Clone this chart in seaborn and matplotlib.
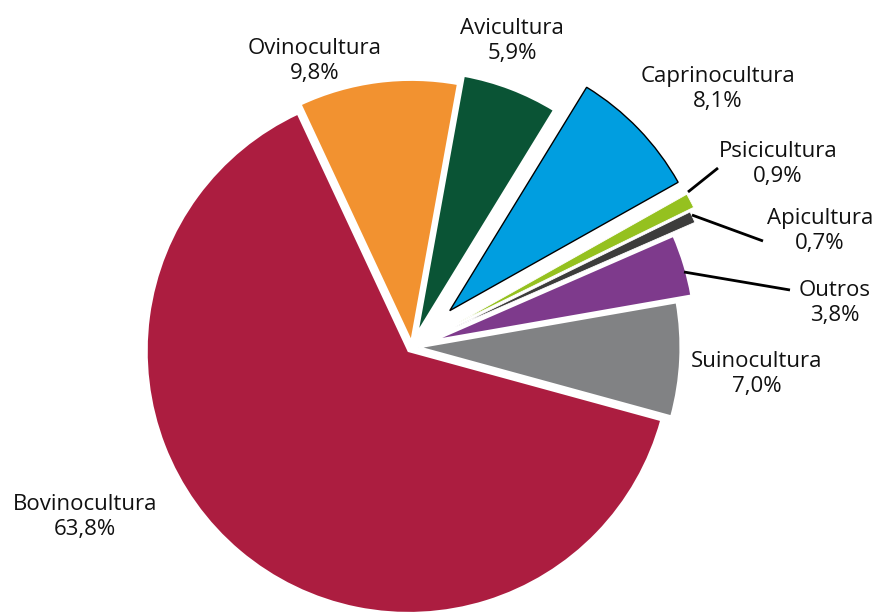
import matplotlib
matplotlib.use("Agg")
import matplotlib.pyplot as plt
import seaborn as sns
import pandas as pd

sns.set_theme(style="white")
plt.rcParams["font.family"] = ["Open Sans", "DejaVu Sans"]

categories = ["Bovinocultura", "Ovinocultura", "Avicultura", "Caprinocultura",
              "Psicicultura", "Apicultura", "Outros", "Suinocultura"]
shares = [63.8, 9.8, 5.9, 8.1, 0.9, 0.7, 3.8, 7.0]
share_labels = ["63,8%", "9,8%", "5,9%", "8,1%", "0,9%", "0,7%", "3,8%", "7,0%"]

colors = ["#AC1D40", "#F29230", "#0A5435", "#009EE0",
          "#95C11F", "#3C3C3B", "#7E3A8C", "#818284"]
explode = [0.02, 0.02, 0.055, 0.20, 0.20, 0.18, 0.085, 0.025]

df = pd.DataFrame({"categoria": categories, "valor": shares, "rotulo": share_labels})

W, H, DPI = 879, 614, 100
CX, CY, R = 412, 347, 262  # pie centre and radius in pixels


def px(x, y):
    """Pixel position -> data coordinates of the pie axes."""
    return (x - CX) / R, (CY - y) / R


fig = plt.figure(figsize=(W / DPI, H / DPI), dpi=DPI)
ax = fig.add_axes([0, 0, 1, 1])

wedges, _ = ax.pie(df["valor"], colors=colors, explode=explode,
                   startangle=-15.3, counterclock=False, radius=1.0,
                   wedgeprops=dict(edgecolor="white", linewidth=1.6))
# black outline on the goat slice, hairline borders on the two thin slices
wedges[3].set_edgecolor("black")
wedges[3].set_linewidth(1.0)
for i in (4, 5):
    wedges[i].set_linewidth(0.6)

# label anchors (pixel centres of the two-line labels)
label_pos = [(85, 517), (315, 61), (512, 41), (718, 89),
             (778, 164), (820, 231), (835, 303), (757, 374)]
for (x, y), cat, lab in zip(label_pos, df["categoria"], df["rotulo"]):
    ax.text(*px(x, y), f"{cat}\n{lab}", ha="center", va="center",
            fontsize=16, linespacing=1.25, color="#111111")

# leader lines for the thin slices
leaders = [((688, 192), (718, 168)),
           ((692, 215), (763, 241)),
           ((684, 272), (790, 290))]
for (x0, y0), (x1, y1) in leaders:
    a, b = px(x0, y0)
    c, d = px(x1, y1)
    ax.plot([a, c], [b, d], color="black", lw=2.0, solid_capstyle="butt")

ax.set_xlim(-CX / R, (W - CX) / R)
ax.set_ylim(-(H - CY) / R, CY / R)
ax.set_aspect("equal")
ax.axis("off")

fig.savefig("out.png", dpi=DPI, facecolor="white")
